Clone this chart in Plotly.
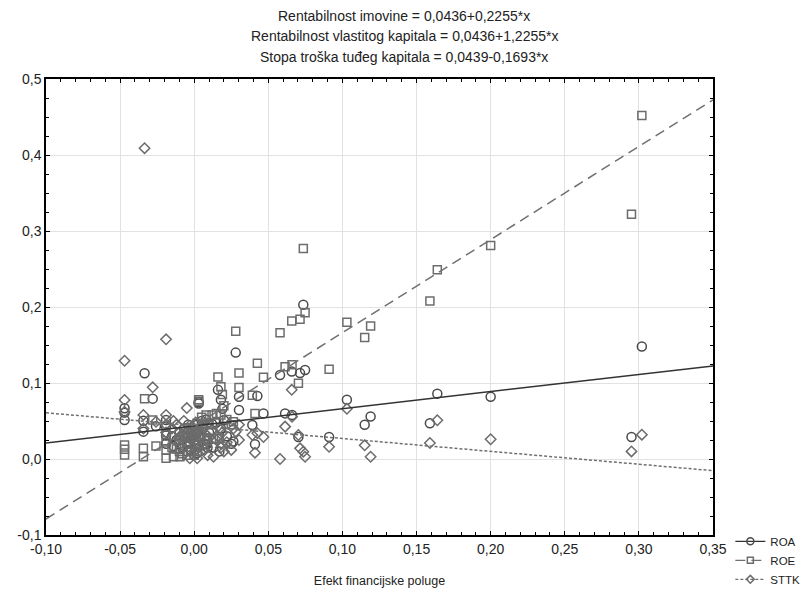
import plotly.graph_objects as go

# Efekt financijske poluge (x) and the three ratios per firm
efekt = [0.302, 0.295, 0.200, 0.164, 0.159, 0.119, 0.115, 0.103, 0.091,
         0.0736, 0.0748, 0.0714, 0.0658, 0.0579, 0.0613, 0.0703, 0.028, 0.0426,
         0.0302, 0.0467, 0.0302, 0.0392, 0.041, 0.0264, 0.066,
         -0.047, -0.047, -0.047, -0.0335, -0.0343, -0.0343, -0.028, -0.0258,
         -0.019, -0.019, -0.019, -0.019,
         -0.015, -0.012, -0.010, -0.010, -0.008, -0.007, -0.005, -0.005, -0.004,
         -0.003, -0.002, -0.002, -0.001, 0.000, 0.000, 0.001, 0.001, 0.002, 0.002,
         0.003, 0.003, 0.004, 0.005, 0.006, 0.007, 0.008, 0.009, 0.010, 0.012,
         0.013, 0.015, 0.016, 0.017, 0.018, 0.018, 0.019, 0.020, 0.022, 0.025,
         -0.014, -0.0096, 0.0084]
roa = [0.148, 0.029, 0.082, 0.086, 0.047, 0.056, 0.045, 0.078, 0.029,
       0.203, 0.117, 0.113, 0.115, 0.1105, 0.060, 0.029, 0.140, 0.083,
       0.082, 0.060, 0.0645, 0.0447, 0.0193, 0.023, 0.058,
       0.0667, 0.061, 0.0513, 0.1128, 0.0504, 0.036, 0.0794, 0.043,
       0.0513, 0.0426, 0.031, 0.020,
       0.030, 0.025, 0.020, 0.035, 0.015, 0.040, 0.028, 0.010, 0.045,
       0.022, 0.030, 0.012, 0.038, 0.005, 0.025, 0.018, 0.033, 0.045, 0.008,
       0.073, 0.075, 0.028, 0.050, 0.040, 0.020, 0.052, 0.015, 0.035, 0.046,
       0.015, 0.048, 0.091, 0.010, 0.078, 0.040, 0.066, 0.051, 0.030, 0.020,
       0.017, 0.013, 0.019]
roe = [0.452, 0.322, 0.281, 0.249, 0.208, 0.175, 0.160, 0.180, 0.118,
       0.277, 0.1925, 0.184, 0.1816, 0.166, 0.1215, 0.0996, 0.168, 0.126,
       0.113, 0.1075, 0.094, 0.084, 0.060, 0.049, 0.124,
       0.0184, 0.0127, 0.0053, 0.0794, 0.0141, 0.003, 0.0513, 0.017,
       0.032, 0.024, 0.0118, 0.001,
       0.015, 0.013, 0.010, 0.025, 0.007, 0.033, 0.023, 0.005, 0.041,
       0.019, 0.028, 0.010, 0.037, 0.005, 0.025, 0.019, 0.034, 0.047, 0.010,
       0.076, 0.078, 0.032, 0.055, 0.046, 0.027, 0.058, 0.024, 0.045, 0.058,
       0.027, 0.060, 0.108, 0.027, 0.095, 0.058, 0.085, 0.070, 0.052, 0.045,
       0.003, 0.003, 0.027]
sttk = [0.032, 0.010, 0.026, 0.051, 0.021, 0.003, 0.018, 0.066, 0.016,
        0.0096, 0.003, 0.014, 0.091, 0.000, 0.0426, 0.0316, 0.036, 0.034,
        0.025, 0.029, 0.045, 0.0316, 0.0083, 0.040, 0.0557,
        0.1293, 0.0776, 0.062, 0.409, 0.058, 0.040, 0.0943, 0.049,
        0.1575, 0.058, 0.045, 0.035,
        0.040, 0.045, 0.035, 0.028, 0.030, 0.050, 0.067, 0.020, 0.038,
        0.001, 0.025, 0.032, 0.042, 0.010, 0.030, 0.022, 0.048, 0.036, 0.001,
        0.015, 0.040, 0.027, 0.033, 0.018, 0.012, 0.045, 0.005, 0.028, 0.038,
        0.003, 0.025, 0.030, 0.040, 0.020, 0.015, 0.035, 0.010, 0.022, 0.012,
        0.050, 0.030, 0.026]

# Regression lines from the title: intercept, slope
series_names = ["ROA", "ROE", "STTK"]
intercepts = [0.0436, 0.0436, 0.0439]
slopes = [0.2255, 1.2255, -0.1693]
title_lines = ["Rentabilnost imovine = 0,0436+0,2255*x",
               "Rentabilnost vlastitog kapitala = 0,0436+1,2255*x",
               "Stopa troška tuđeg kapitala = 0,0439-0,1693*x"]
x_range = [-0.10, 0.35]
x_tickvals = [-0.10, -0.05, 0.00, 0.05, 0.10, 0.15, 0.20, 0.25, 0.30, 0.35]
x_ticktext = ["-0,10", "-0,05", "0,00", "0,05", "0,10", "0,15", "0,20", "0,25", "0,30", "0,35"]
y_tickvals = [-0.1, 0.0, 0.1, 0.2, 0.3, 0.4, 0.5]
y_ticktext = ["-0,1", "0,0", "0,1", "0,2", "0,3", "0,4", "0,5"]

font_fam = "Liberation Sans, Arial, sans-serif"
symbols = ["circle-open", "square-open", "diamond-open"]
mcolors = ["#4a4a4a", "#6c6c6c", "#6c6c6c"]
msizes = [9, 8, 8]
lcolors = ["#333333", "#707070", "#707070"]
ldash = ["solid", "10px,6px", "3px,2px"]

fig = go.Figure()
for name, vals, sym, mc, ms in zip(series_names, [roa, roe, sttk], symbols, mcolors, msizes):
    fig.add_trace(go.Scatter(x=efekt, y=vals, mode="markers", showlegend=False,
                             marker=dict(symbol=sym, size=ms, color=mc,
                                         line=dict(color=mc, width=1.5))))
for name, a, b, lc, ld in zip(series_names, intercepts, slopes, lcolors, ldash):
    fig.add_trace(go.Scatter(x=x_range, y=[a + b * xv for xv in x_range], mode="lines",
                             showlegend=False, line=dict(color=lc, width=1.5, dash=ld)))
for name, sym, mc, ms, lc, ld in zip(series_names, symbols, mcolors, msizes, lcolors, ldash):
    fig.add_trace(go.Scatter(x=[None], y=[None], mode="lines+markers", name=name,
                             marker=dict(symbol=sym, size=ms - 2, color=mc, line=dict(color=mc, width=1.5)),
                             line=dict(color=lc, width=1.2, dash=ld)))

axis_common = dict(showline=True, linecolor="black", linewidth=1.5, mirror="ticks",
                   ticks="inside", ticklen=4, tickcolor="black", tickwidth=1,
                   showgrid=True, gridcolor="#e2e2e2", gridwidth=1, zeroline=False,
                   automargin=False,
                   tickfont=dict(family=font_fam, size=14, color="#222"))
fig.update_xaxes(range=x_range, tickmode="array", tickvals=x_tickvals, ticktext=x_ticktext,
                 minor=dict(dtick=0.01, tick0=-0.1, ticks="inside", ticklen=3, tickcolor="black", showgrid=False),
                 title=dict(text="Efekt financijske poluge", standoff=21,
                            font=dict(family=font_fam, size=12.5, color="#222")),
                 **axis_common)
fig.update_yaxes(range=[-0.1, 0.5], tickmode="array", tickvals=y_tickvals, ticktext=y_ticktext,
                 minor=dict(dtick=0.025, tick0=0, ticks="inside", ticklen=3, tickcolor="black", showgrid=False),
                 **axis_common)

ys = [1.138, 1.094, 1.048]
for txt, yv in zip(title_lines, ys):
    fig.add_annotation(text=txt, xref="paper", yref="paper", x=0.537, y=yv,
                       showarrow=False, xanchor="center", yanchor="middle",
                       font=dict(family=font_fam, size=14, color="#222"))

fig.update_layout(width=800, height=583,
                  margin=dict(l=38, r=95, t=71, b=56, autoexpand=False),
                  paper_bgcolor="white", plot_bgcolor="white", separators=",.",
                  legend=dict(x=1.026, y=0.018, xanchor="left", yanchor="top",
                              font=dict(family=font_fam, size=11.5, color="#222"),
                              bgcolor="rgba(0,0,0,0)", tracegroupgap=0))
fig.write_html("out.html")
